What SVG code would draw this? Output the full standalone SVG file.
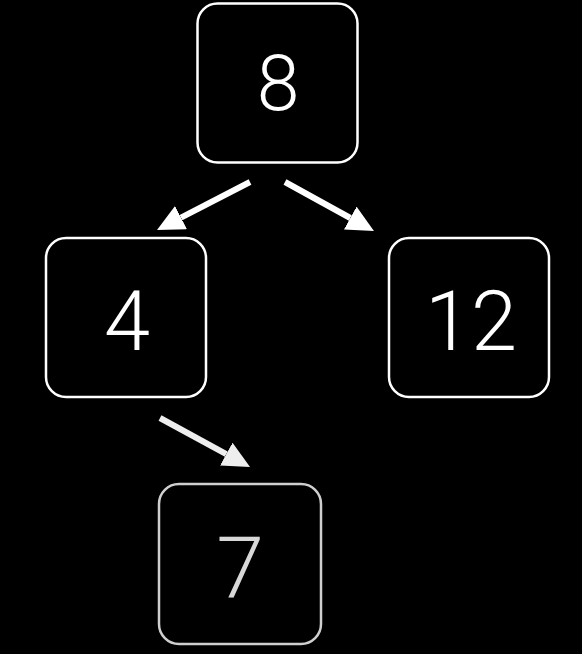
<svg xmlns="http://www.w3.org/2000/svg" width="582" height="654" viewBox="0 0 582 654">
<defs>
<style>
.box{fill:#000;stroke:#fff;stroke-width:2.5}
.dim .box{stroke:#cfcfcf}
.lbl{font-family:Roboto,"Open Sans","Liberation Sans",sans-serif;font-weight:300;fill:#fff;text-anchor:middle}
.dim .lbl{fill:#d8d8d8}
.edge{stroke:#fff;stroke-width:6;fill:none}
</style>
<marker id="ah" markerUnits="userSpaceOnUse" markerWidth="28" markerHeight="27" refX="0" refY="13" orient="auto">
<path d="M0,0 L27,13 L0,26 z" fill="#fff"/>
</marker>
<marker id="ah2" markerUnits="userSpaceOnUse" markerWidth="28" markerHeight="27" refX="0" refY="13" orient="auto">
<path d="M0,0 L27,13 L0,26 z" fill="#eee"/>
</marker>
</defs>
<rect width="582" height="654" fill="#000"/>
<g id="edges">
<line class="edge" x1="250" y1="182" x2="181" y2="217.6" marker-end="url(#ah)"/>
<line class="edge" x1="285" y1="182" x2="350.3" y2="218" marker-end="url(#ah)"/>
<line class="edge" x1="160" y1="418" x2="226.3" y2="454.1" marker-end="url(#ah2)" style="stroke:#eee"/>
</g>
<g id="n8">
<rect class="box" x="197.5" y="3.5" width="160" height="159" rx="20"/>
<text class="lbl" x="278" y="110" font-size="77">8</text>
</g>
<g id="n4">
<rect class="box" x="46" y="238" width="160" height="159" rx="20"/>
<text class="lbl" x="127" y="350" font-size="83">4</text>
</g>
<g id="n12">
<rect class="box" x="389" y="238" width="160" height="159" rx="20"/>
<text class="lbl" x="471" y="350" font-size="83">12</text>
</g>
<g id="n7" class="dim">
<rect class="box" x="159" y="484" width="162" height="160" rx="20"/>
<text class="lbl" x="240" y="597" font-size="86">7</text>
</g>
</svg>
